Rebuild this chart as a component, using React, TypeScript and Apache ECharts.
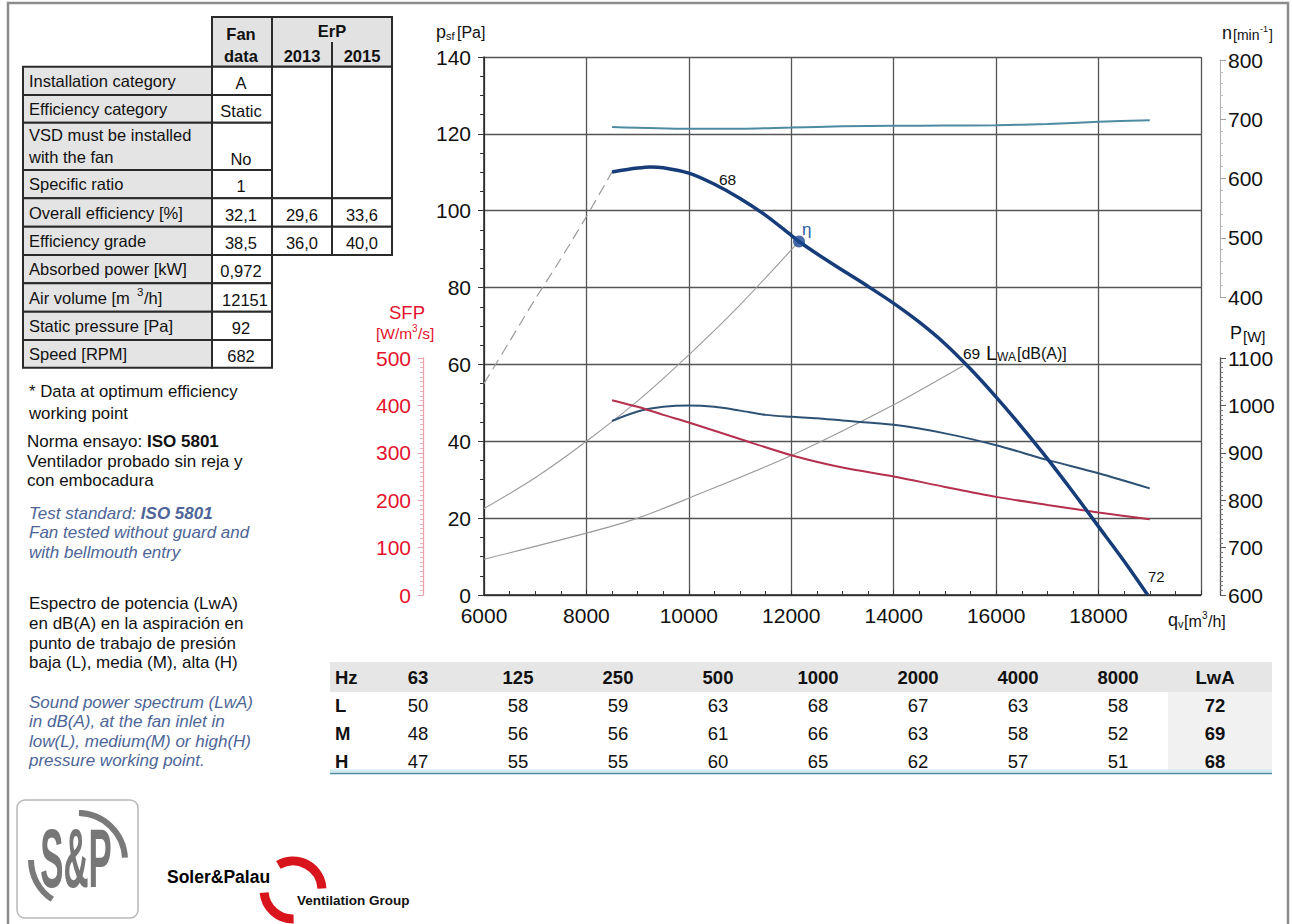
import React, { useEffect, useRef } from 'react';
import * as echarts from 'echarts';

const FONT = '"Liberation Sans", Arial, Helvetica, sans-serif';
const NARROW = '"Liberation Sans Narrow", "Liberation Sans", Arial, sans-serif';

// ---- Fan data table ----
const fanLabels = [
  'Installation category',
  'Efficiency category',
  'VSD must be installed|with the fan',
  'Specific ratio',
  'Overall efficiency [%]',
  'Efficiency grade',
  'Absorbed power [kW]',
  'Air volume [m|3|/h]',
  'Static pressure [Pa]',
  'Speed [RPM]',
];
const fanValues = ['A', 'Static', 'No', '1', '32,1', '38,5', '0,972', '12151', '92', '682'];
const erp2013 = ['', '', '', '', '29,6', '36,0'];
const erp2015 = ['', '', '', '', '33,6', '40,0'];

// ---- Optimum point ----
const optQ = 12151;
const optP = 92;

// ---- Curves (qv m3/h) ----
const pressureQ = [8500, 9000, 9250, 9500, 10000, 10500, 11000, 11500, 12000, 12151, 12500, 13000, 13500, 14000, 14500, 15000, 15500, 16000, 16500, 17000, 17500, 18000, 18500, 18960];
const pressureP = [110.1, 111.1, 111.4, 111.2, 109.8, 106.9, 103.2, 98.8, 93.6, 92, 88.8, 84.5, 80.3, 75.9, 71, 65.4, 58.8, 51.5, 43.7, 35.5, 26.8, 17.8, 8.8, 0];

const limitQ = [6000, 6500, 7000, 7500, 8000, 8500];
const limitP = [55, 66, 77, 87.5, 98.5, 110.1];

const sysUpperQ = [6000, 7000, 8000, 9000, 10000, 11000, 12151];
const sysUpperP = [22.5, 30.5, 40, 50.5, 62.5, 75.5, 92];

const sysLowerQ = [6000, 8000, 9000, 10000, 12000, 14000, 15350];
const sysLowerP = [9.3, 16.1, 20, 25.2, 36.3, 49.5, 59.6];

const speedQ = [8500, 10000, 11000, 12000, 13000, 14000, 15000, 16000, 17000, 18000, 19000];
const speedN = [687, 684, 684, 686, 688, 689, 689.4, 690, 692, 695.6, 698.5];

const powerQ = [8500, 9000, 9500, 10000, 10500, 11000, 11500, 12000, 12500, 13000, 14000, 15000, 16000, 17000, 18000, 19000];
const powerW = [967, 987, 997, 1000, 997, 989, 980, 976, 973, 968, 959, 941, 916, 885, 857, 825];

const sfpQ = [8500, 9000, 9500, 10000, 11000, 12000, 13000, 14000, 15000, 16000, 17000, 18000, 19000];
const sfpV = [411, 397, 380, 364, 329, 295, 269, 250, 228, 207, 190, 174, 160];

// ---- Sound spectrum ----
const bands = ['63', '125', '250', '500', '1000', '2000', '4000', '8000'];
const spectrumRows = ['L', 'M', 'H'];
const spectrumL = [50, 58, 59, 63, 68, 67, 63, 58];
const spectrumM = [48, 56, 56, 61, 66, 63, 58, 52];
const spectrumH = [47, 55, 55, 60, 65, 62, 57, 51];
const lwaTotals = [72, 69, 68];

const xTicks = [6000, 8000, 10000, 12000, 14000, 16000, 18000];

function buildGraphics() {
  const g: any[] = [];
  const txt = (x: number, y: number, text: string, o: any = {}) => {
    const size = o.size ?? 16.5;
    const font = `${o.italic ? 'italic ' : ''}${o.bold ? 'bold ' : ''}${size}px ${o.family ?? FONT}`;
    const align = o.align ?? 'left';
    g.push({
      type: 'text', x, y, silent: true, z: o.z ?? 100,
      scaleX: o.scaleX ?? 1, scaleY: o.scaleY ?? 1,
      style: {
        text, font, fill: o.color ?? '#111',
        align, textAlign: align, verticalAlign: 'middle', textVerticalAlign: 'middle',
        rich: o.rich,
      },
    });
  };
  const rect = (x: number, y: number, w: number, h: number, fill: string, stroke = '#2a2a2a', lw = 2, r = 0) => {
    g.push({ type: 'rect', silent: true, z: 90, shape: { x, y, width: w, height: h, r }, style: { fill, stroke, lineWidth: lw } });
  };
  const line = (x1: number, y1: number, x2: number, y2: number, stroke: string, lw = 1) => {
    g.push({ type: 'line', silent: true, z: 91, shape: { x1, y1, x2, y2 }, style: { stroke, lineWidth: lw } });
  };

  // page frame
  g.push({ type: 'rect', silent: true, z: 1, shape: { x: 8, y: 3, width: 1280, height: 930 }, style: { fill: 'none', stroke: '#8c8c8c', lineWidth: 2.5 } });

  // ---- fan table ----
  const rowY = [66.7, 95, 122.7, 170, 198.3, 226.7, 255, 283.3, 311.7, 340, 367.7];
  const cL = 23, cV = 212, c13 = 272, c15 = 332, cEnd = 392;
  rect(cV, 17, c13 - cV, rowY[0] - 17, '#e2e2e2');
  rect(c13, 17, cEnd - c13, rowY[0] - 17, '#e2e2e2');
  rect(c13, rowY[0], cEnd - c13, rowY[4] - rowY[0], '#ffffff');
  line(c15, 42, c15, rowY[4], '#2a2a2a', 2);
  txt(241, 34, 'Fan', { bold: true, align: 'center' });
  txt(241, 56, 'data', { bold: true, align: 'center' });
  txt(332, 31, 'ErP', { bold: true, align: 'center' });
  txt(302, 56, '2013', { bold: true, align: 'center' });
  txt(362, 56, '2015', { bold: true, align: 'center' });
  fanLabels.forEach((lab, i) => {
    const y0 = rowY[i], y1 = rowY[i + 1];
    const cy = (y0 + y1) / 2;
    rect(cL, y0, cV - cL, y1 - y0, '#e4e4e4');
    rect(cV, y0, c13 - cV, y1 - y0, '#ffffff');
    if (i < erp2013.length && erp2013[i] !== '') {
      rect(c13, y0, c15 - c13, y1 - y0, '#ffffff');
      rect(c15, y0, cEnd - c15, y1 - y0, '#ffffff');
      txt(302, cy + 2, erp2013[i], { align: 'center' });
      txt(362, cy + 2, erp2015[i], { align: 'center' });
    }
    const parts = lab.split('|');
    if (parts.length === 2) {
      txt(29, cy - 11, parts[0]);
      txt(29, cy + 11, parts[1]);
      txt(241, cy + 13, fanValues[i], { align: 'center' });
    } else if (parts.length === 3) {
      txt(29, cy, parts[0]);
      txt(137, cy - 6, parts[1], { size: 11.5 });
      txt(144, cy, parts[2]);
      txt(245, cy + 2, fanValues[i], { align: 'center' });
    } else {
      txt(29, cy, lab);
      txt(241, cy + 2, fanValues[i], { align: 'center' });
    }
  });

  // ---- left notes ----
  const blue = '#4d6597';
  const NS = 17;
  txt(29, 391, '* Data at optimum efficiency', { size: 16.8 });
  txt(29, 413, 'working point', { size: 16.8 });
  txt(27, 441, '{a|Norma ensayo: }{b|ISO 5801}', {
    rich: { a: { font: `${NS}px ${FONT}`, fill: '#111' }, b: { font: `bold ${NS}px ${FONT}`, fill: '#111' } },
  });
  txt(27, 461, 'Ventilador probado sin reja y', { size: NS });
  txt(27, 480, 'con embocadura', { size: NS });
  txt(29, 513, '{a|Test standard: }{b|ISO 5801}', {
    rich: { a: { font: `italic ${NS}px ${FONT}`, fill: blue }, b: { font: `italic bold ${NS}px ${FONT}`, fill: blue } },
  });
  txt(29, 532, 'Fan tested without guard and', { size: NS, italic: true, color: blue });
  txt(29, 552, 'with bellmouth entry', { size: NS, italic: true, color: blue });
  txt(29, 603, 'Espectro de potencia (LwA)', { size: NS });
  txt(29, 623, 'en dB(A) en la aspiración en', { size: NS });
  txt(29, 643, 'punto de trabajo de presión', { size: NS });
  txt(29, 662, 'baja (L), media (M), alta (H)', { size: NS });
  txt(29, 702, 'Sound power spectrum (LwA)', { size: NS, italic: true, color: blue });
  txt(29, 721, 'in dB(A), at the fan inlet in', { size: NS, italic: true, color: blue });
  txt(29, 741, 'low(L), medium(M) or high(H)', { size: NS, italic: true, color: blue });
  txt(29, 760, 'pressure working point.', { size: NS, italic: true, color: blue });

  // ---- spectrum table ----
  g.push({ type: 'rect', silent: true, z: 5, shape: { x: 330, y: 662, width: 942, height: 30 }, style: { fill: '#e6e6e6' } });
  g.push({ type: 'rect', silent: true, z: 5, shape: { x: 1168, y: 692, width: 104, height: 79 }, style: { fill: '#f1f1f1' } });
  g.push({ type: 'line', silent: true, z: 6, shape: { x1: 330, y1: 771, x2: 1272, y2: 771 }, style: { stroke: '#cdeaf1', lineWidth: 3 } });
  g.push({ type: 'line', silent: true, z: 6, shape: { x1: 330, y1: 773.5, x2: 1272, y2: 773.5 }, style: { stroke: '#4f8a9e', lineWidth: 1.6 } });
  const colX = (i: number) => 418 + i * 100;
  txt(335, 677, 'Hz', { bold: true, size: 18.5, family: NARROW });
  bands.forEach((b, i) => txt(colX(i), 677, b, { bold: true, size: 18.5, family: NARROW, align: 'center' }));
  txt(1215, 677, 'LwA', { bold: true, size: 18.5, family: NARROW, align: 'center' });
  const rowsData = [spectrumL, spectrumM, spectrumH];
  spectrumRows.forEach((r, j) => {
    const y = 705 + j * 28;
    txt(335, y, r, { bold: true, size: 18.5, family: NARROW });
    rowsData[j].forEach((v, i) => txt(colX(i), y, String(v), { size: 18.5, family: NARROW, align: 'center' }));
    txt(1215, y, String(lwaTotals[j]), { bold: true, size: 18.5, family: NARROW, align: 'center' });
  });

  // ---- axis names ----
  txt(436, 32, 'p', { size: 18 });
  txt(446, 36, 'sf', { size: 11 });
  txt(457, 32, '[Pa]', { size: 16 });
  txt(1222, 33, 'n', { size: 18 });
  txt(1233, 35, '[min', { size: 14 });
  txt(1260, 29, '-1', { size: 9 });
  txt(1269, 35, ']', { size: 14 });
  txt(1230, 333, 'P', { size: 18 });
  txt(1243, 336, '[W]', { size: 15 });
  const red = '#e3132d';
  txt(407, 312, 'SFP', { size: 18.5, color: red, align: 'center' });
  txt(376, 333, '[W/m', { size: 15.5, color: red });
  txt(412, 328, '3', { size: 10, color: red });
  txt(418, 333, '/s]', { size: 15.5, color: red });
  txt(1168, 620, 'q', { size: 18 });
  txt(1178, 624, 'v', { size: 11 });
  txt(1184, 621, '[m', { size: 16 });
  txt(1202, 615, '3', { size: 10 });
  txt(1208, 621, '/h]', { size: 16 });

  // ---- curve annotations ----
  txt(719, 179, '68', { size: 15.5 });
  txt(1148, 576, '72', { size: 15 });
  txt(963, 353, '69', { size: 15.5 });
  txt(986, 353, 'L', { size: 20 });
  txt(997, 357, 'WA', { size: 12 });
  txt(1017, 353, '[dB(A)]', { size: 16 });
  txt(802, 229, 'η', { size: 17, color: '#2a5caa' });

  // ---- logos ----
  rect(17, 800, 121, 118, '#ffffff', '#b8b8b8', 1.5, 8);
  g.push({ type: 'arc', silent: true, z: 95, shape: { cx: 78, cy: 860, r: 47, startAngle: -1.55, endAngle: -0.05, clockwise: true }, style: { stroke: '#7a7a7a', lineWidth: 6, fill: 'none' } });
  g.push({ type: 'arc', silent: true, z: 95, shape: { cx: 78, cy: 860, r: 47, startAngle: 2.15, endAngle: 3.14, clockwise: true }, style: { stroke: '#7a7a7a', lineWidth: 6, fill: 'none' } });
  txt(76, 858, 'S&P', { size: 58, bold: true, family: NARROW, color: '#777', align: 'center', scaleX: 0.6, scaleY: 1.45 });
  g.push({ type: 'arc', silent: true, z: 95, shape: { cx: 293, cy: 890, r: 29, startAngle: -2.1, endAngle: -0.05, clockwise: true }, style: { stroke: '#d8141c', lineWidth: 9, fill: 'none' } });
  g.push({ type: 'arc', silent: true, z: 95, shape: { cx: 293, cy: 890, r: 29, startAngle: 1.55, endAngle: 3.05, clockwise: true }, style: { stroke: '#d8141c', lineWidth: 9, fill: 'none' } });
  txt(167, 877, 'Soler&Palau', { size: 17.5, bold: true, color: '#000', z: 101 });
  txt(297, 900, 'Ventilation Group', { size: 13.5, bold: true, color: '#111', z: 101 });
  return g;
}

function buildOption(): any {
  const ser = (xi: number, yi: number, qs: number[], vs: number[], color: string, width: number, z: number) => ({
    type: 'line', xAxisIndex: xi, yAxisIndex: yi, data: qs.map((q, i) => [q, vs[i]]),
    smooth: 0.3, symbol: 'none', showSymbol: false, silent: true, z,
    lineStyle: { color, width },
  });
  const gridX = (idx: number, show: boolean) => ({
    type: 'value', gridIndex: idx, min: 6000, max: 20000, interval: 2000, show,
    axisLine: { show, onZero: false, lineStyle: { color: '#222', width: 1.5 } },
    axisTick: { show, inside: true, length: 5, lineStyle: { color: '#333' } },
    minorTick: { show, splitNumber: 4, length: 4, lineStyle: { color: '#333' } },
    splitLine: { show, lineStyle: { color: '#555', width: 1.3 } },
    axisLabel: {
      show, margin: 10, fontSize: 21, color: '#111', fontFamily: FONT,
      formatter: (v: number) => (xTicks.includes(v) ? String(v) : ''),
    },
  });
  return {
    animation: false,
    backgroundColor: '#ffffff',
    graphic: { elements: buildGraphics() },
    grid: [
      { left: 484, top: 57, width: 717, height: 538, outerBoundsMode: 'none' },
      { left: 484, top: 60, width: 717, height: 237, outerBoundsMode: 'none' },
      { left: 484, top: 358, width: 717, height: 237, outerBoundsMode: 'none' },
    ],
    xAxis: [gridX(0, true), gridX(1, false), gridX(2, false)],
    yAxis: [
      {
        type: 'value', gridIndex: 0, min: 0, max: 140, interval: 20, position: 'left',
        axisLine: { show: true, lineStyle: { color: '#222', width: 1.5 } },
        axisTick: { show: true, inside: false, length: 6, lineStyle: { color: '#333' } },
        minorTick: { show: true, splitNumber: 4, length: 4, lineStyle: { color: '#333' } },
        splitLine: { show: true, lineStyle: { color: '#555', width: 1.3 } },
        axisLabel: { margin: 13, fontSize: 21, color: '#111', fontFamily: FONT },
      },
      {
        type: 'value', gridIndex: 1, min: 400, max: 800, interval: 100, position: 'right', offset: 19,
        axisLine: { show: true, lineStyle: { color: '#b0b0b0', width: 1 } },
        axisTick: { show: true, inside: false, length: 6, lineStyle: { color: '#a0a0a0' } },
        minorTick: { show: true, splitNumber: 5, length: 3, lineStyle: { color: '#bbbbbb' } },
        splitLine: { show: false },
        axisLabel: { margin: 8, fontSize: 21, color: '#111', fontFamily: FONT, formatter: (v: number) => String(v) },
      },
      {
        type: 'value', gridIndex: 2, min: 600, max: 1100, interval: 100, position: 'right', offset: 19,
        axisLine: { show: true, lineStyle: { color: '#555', width: 1.3 } },
        axisTick: { show: true, inside: false, length: 6, lineStyle: { color: '#555' } },
        minorTick: { show: true, splitNumber: 10, length: 3, lineStyle: { color: '#777' } },
        splitLine: { show: false },
        axisLabel: { margin: 8, fontSize: 21, color: '#111', fontFamily: FONT, formatter: (v: number) => String(v) },
      },
      {
        type: 'value', gridIndex: 2, min: 0, max: 500, interval: 100, position: 'left', offset: 61,
        axisLine: { show: true, lineStyle: { color: '#e7a3ad', width: 1.3 } },
        axisTick: { show: true, inside: false, length: 5, lineStyle: { color: '#e7a3ad' } },
        minorTick: { show: true, splitNumber: 10, length: 3, lineStyle: { color: '#e9b3bb' } },
        splitLine: { show: false },
        axisLabel: { margin: 12, fontSize: 21, color: '#e3132d', fontFamily: FONT },
      },
    ],
    series: [
      { ...ser(0, 0, limitQ, limitP, '#9a9a9a', 1.2, 3), lineStyle: { color: '#9a9a9a', width: 1.2, type: [11, 6] } },
      ser(0, 0, sysUpperQ, sysUpperP, '#9a9a9a', 1.1, 3),
      ser(0, 0, sysLowerQ, sysLowerP, '#9a9a9a', 1.1, 3),
      ser(2, 2, powerQ, powerW, '#2d5275', 2, 4),
      ser(2, 3, sfpQ, sfpV, '#b5304e', 2, 4),
      ser(1, 1, speedQ, speedN, '#4d8ba3', 2, 4),
      ser(0, 0, pressureQ, pressureP, '#163d7a', 3.5, 6),
      {
        type: 'scatter', xAxisIndex: 0, yAxisIndex: 0, data: [[optQ, optP]], symbol: 'circle', symbolSize: 12,
        itemStyle: { color: '#1a4590' }, silent: true, z: 7,
      },
    ],
  };
}

export default function App() {
  const ref = useRef<HTMLDivElement>(null);
  useEffect(() => {
    if (!ref.current) return;
    const chart = echarts.init(ref.current, undefined, { renderer: 'svg' });
    chart.setOption(buildOption());
    return () => chart.dispose();
  }, []);
  return (
    <div
      ref={ref}
      style={{ position: 'fixed', left: 0, top: 0, width: 1293, height: 924, background: '#fff' }}
    />
  );
}
